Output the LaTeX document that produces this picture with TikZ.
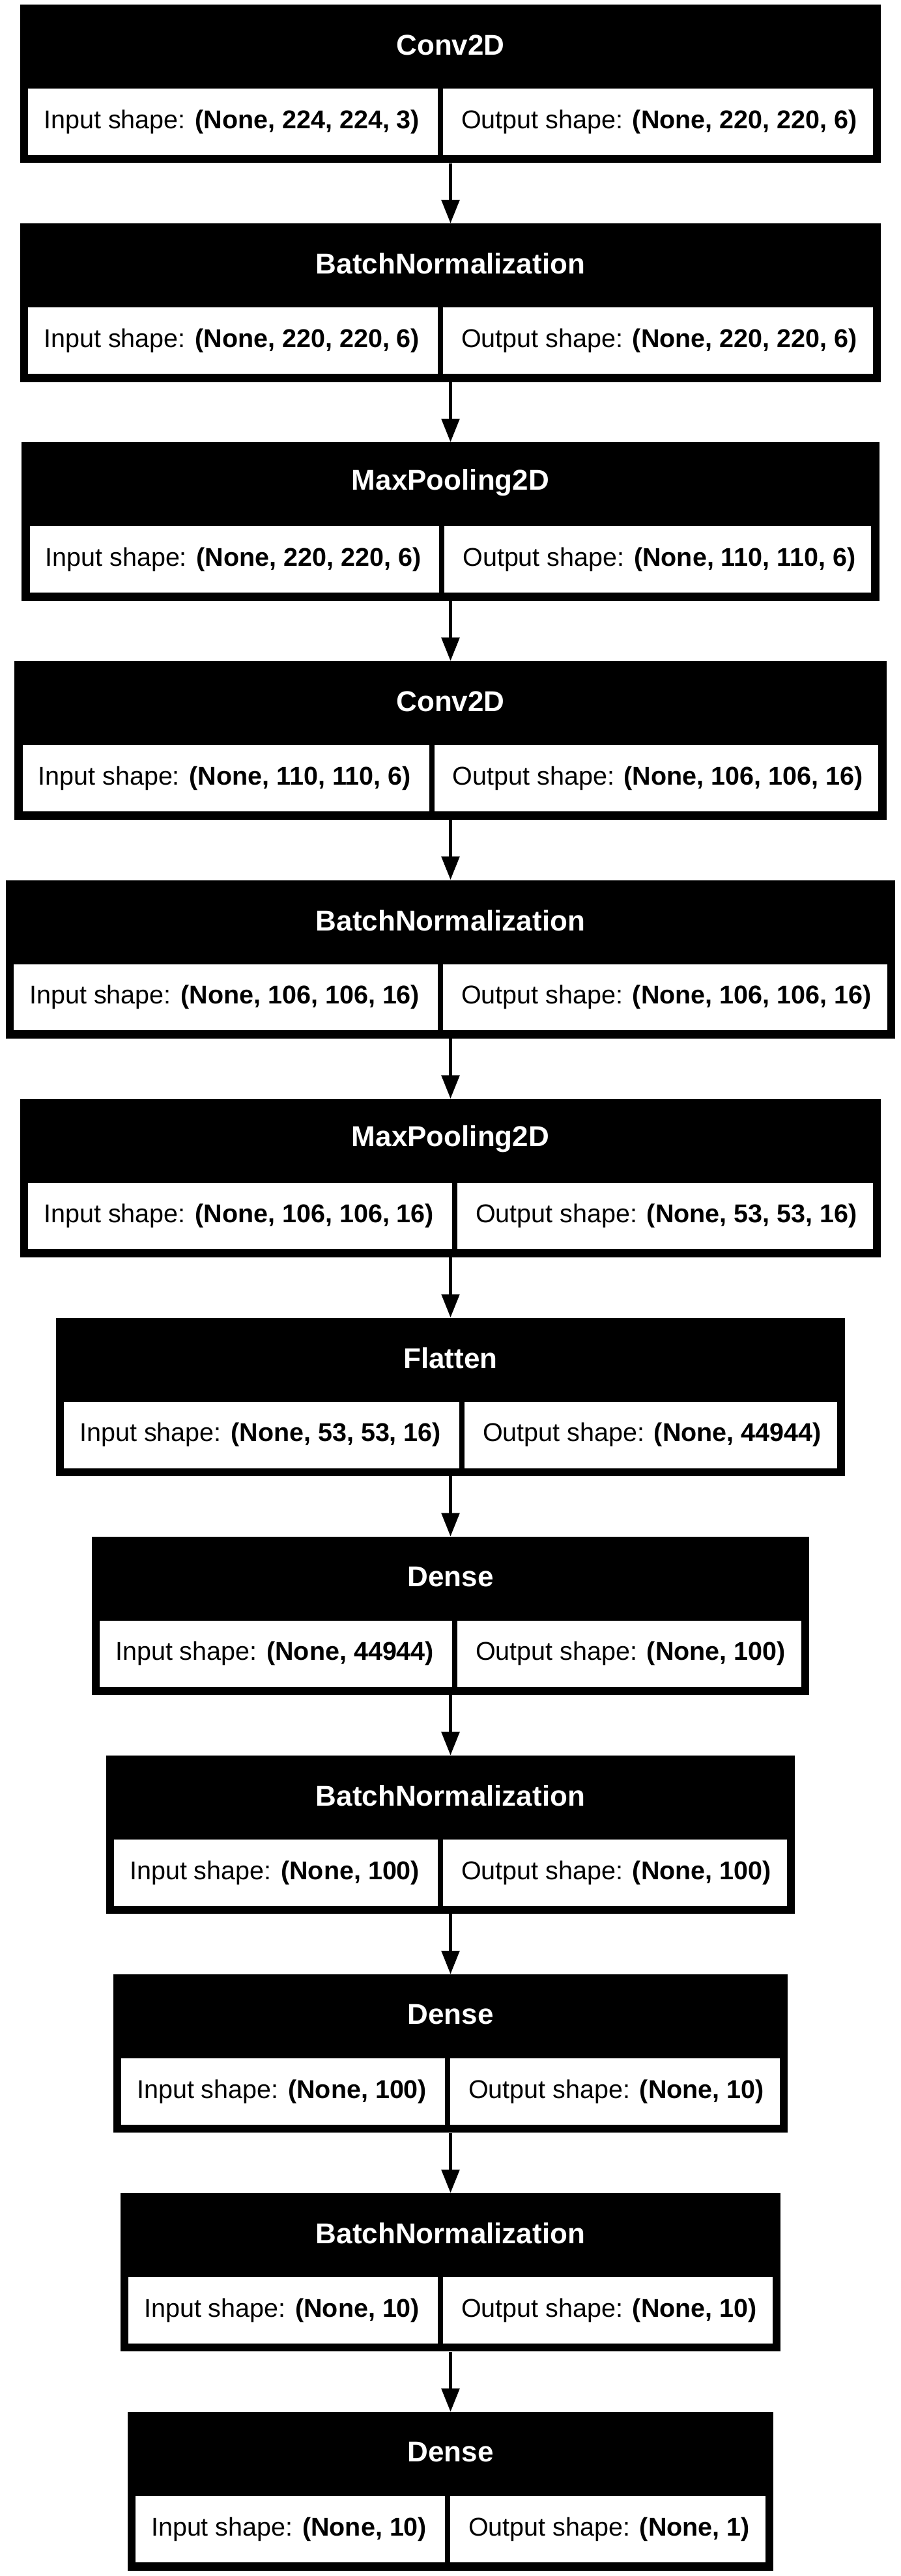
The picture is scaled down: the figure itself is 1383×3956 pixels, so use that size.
\documentclass[tikz,border=0pt]{standalone}
\usepackage{fontspec}
\setmainfont{Liberation Sans}
\usetikzlibrary{shapes.multipart,fit,backgrounds,arrows.meta}

\tikzset{
  shaperow/.style={rectangle split, rectangle split horizontal, rectangle split parts=2,
    draw=black, line width=8pt, fill=white, inner xsep=28pt, inner ysep=36.5pt,
    font=\fontsize{39.5}{47}\selectfont},
  layerbox/.style={fill=black, inner sep=4.5pt},
  layername/.style={text=white, font=\fontsize{44}{52}\selectfont\bfseries},
  flow/.style={line width=5.5pt, -{Triangle[length=36pt,width=27pt]}}
}

\begin{document}
\begin{tikzpicture}[x=1pt,y=1pt]
\useasboundingbox (0,0) rectangle (1383,-3956);

\node[shaperow] (r1) at (691.5,-187) {Input shape: \textbf{(None, 224, 224, 3)}\nodepart{two}Output shape: \textbf{(None, 220, 220, 6)}};
\node[shaperow] (r2) at (691.5,-523.1) {Input shape: \textbf{(None, 220, 220, 6)}\nodepart{two}Output shape: \textbf{(None, 220, 220, 6)}};
\node[shaperow] (r3) at (691.5,-859.2) {Input shape: \textbf{(None, 220, 220, 6)}\nodepart{two}Output shape: \textbf{(None, 110, 110, 6)}};
\node[shaperow] (r4) at (691.5,-1195.3) {Input shape: \textbf{(None, 110, 110, 6)}\nodepart{two}Output shape: \textbf{(None, 106, 106, 16)}};
\node[shaperow] (r5) at (691.5,-1531.4) {Input shape: \textbf{(None, 106, 106, 16)}\nodepart{two}Output shape: \textbf{(None, 106, 106, 16)}};
\node[shaperow] (r6) at (691.5,-1867.5) {Input shape: \textbf{(None, 106, 106, 16)}\nodepart{two}Output shape: \textbf{(None, 53, 53, 16)}};
\node[shaperow] (r7) at (691.5,-2203.6) {Input shape: \textbf{(None, 53, 53, 16)}\nodepart{two}Output shape: \textbf{(None, 44944)}};
\node[shaperow] (r8) at (691.5,-2539.7) {Input shape: \textbf{(None, 44944)}\nodepart{two}Output shape: \textbf{(None, 100)}};
\node[shaperow] (r9) at (691.5,-2875.8) {Input shape: \textbf{(None, 100)}\nodepart{two}Output shape: \textbf{(None, 100)}};
\node[shaperow] (r10) at (691.5,-3211.9) {Input shape: \textbf{(None, 100)}\nodepart{two}Output shape: \textbf{(None, 10)}};
\node[shaperow] (r11) at (691.5,-3548) {Input shape: \textbf{(None, 10)}\nodepart{two}Output shape: \textbf{(None, 10)}};
\node[shaperow] (r12) at (691.5,-3884.1) {Input shape: \textbf{(None, 10)}\nodepart{two}Output shape: \textbf{(None, 1)}};

\begin{scope}[on background layer]
\foreach \i in {1,...,12} {
  \coordinate (c\i) at ([yshift=116.5pt]r\i.north);
  \node[layerbox, fit=(r\i)(c\i)] (l\i) {};
}
\end{scope}

\foreach \i/\name in {1/Conv2D, 2/BatchNormalization, 3/MaxPooling2D, 4/Conv2D,
  5/BatchNormalization, 6/MaxPooling2D, 7/Flatten, 8/Dense,
  9/BatchNormalization, 10/Dense, 11/BatchNormalization, 12/Dense}
  \node[layername] (t\i) at ([yshift=-62pt]l\i.north) {\name};

\foreach \i [evaluate=\i as \j using int(\i+1)] in {1,...,11}
  \draw[flow] (l\i.south) -- (l\j.north);
\end{tikzpicture}
\end{document}
